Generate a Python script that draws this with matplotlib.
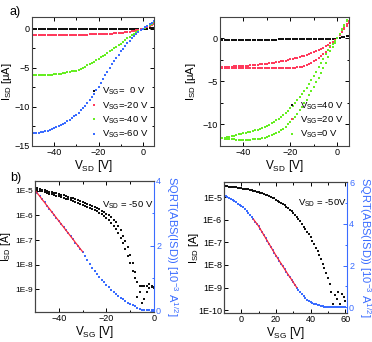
import numpy as np
import matplotlib
matplotlib.use("Agg")
import matplotlib.pyplot as plt
from matplotlib.ticker import AutoMinorLocator, FixedLocator, FuncFormatter, NullLocator

plt.rcParams['font.family'] = ['Liberation Sans', 'DejaVu Sans']
plt.rcParams['mathtext.default'] = 'regular'

# ---------------- data ----------------
# panel a) left : output curves, V_SD sweep -50..5 V
vsd_a1 = list(range(-50, 6))
isd_vsg0 = [-0.02, -0.02, -0.02, -0.02, -0.02, -0.02, -0.02, -0.02, -0.02, -0.02,
            -0.02, -0.02, -0.02, -0.02, -0.02, -0.02, -0.02, -0.02, -0.02, -0.02,
            -0.02, -0.02, -0.02, -0.02, -0.02, -0.02, -0.02, -0.02, -0.02, -0.02,
            -0.02, -0.02, -0.02, -0.02, -0.02, -0.02, -0.02, -0.02, -0.02, -0.02,
            -0.02, -0.02, -0.02, -0.02, -0.02, -0.02, -0.02, -0.02, -0.01, -0.01,
            0.0, 0.01, 0.02, 0.03, 0.04, 0.05]
isd_vsg20n = [-0.76, -0.76, -0.76, -0.76, -0.76, -0.76, -0.76, -0.76, -0.76, -0.76,
              -0.76, -0.76, -0.76, -0.76, -0.76, -0.76, -0.76, -0.75, -0.75, -0.75,
              -0.75, -0.75, -0.75, -0.74, -0.74, -0.74, -0.73, -0.73, -0.72, -0.72,
              -0.71, -0.70, -0.69, -0.68, -0.67, -0.65, -0.63, -0.61, -0.59, -0.56,
              -0.53, -0.50, -0.46, -0.42, -0.37, -0.32, -0.26, -0.20, -0.13, -0.06,
              0.01, 0.10, 0.20, 0.30, 0.42, 0.55]
isd_vsg40n = [-5.95, -5.95, -5.95, -5.94, -5.94, -5.93, -5.92, -5.90, -5.88, -5.87,
              -5.85, -5.82, -5.78, -5.74, -5.70, -5.65, -5.59, -5.52, -5.45, -5.40,
              -5.35, -5.24, -5.12, -5.00, -4.85, -4.70, -4.53, -4.37, -4.20, -4.02,
              -3.85, -3.66, -3.48, -3.30, -3.10, -2.90, -2.70, -2.50, -2.30, -2.10,
              -1.90, -1.67, -1.45, -1.25, -1.05, -0.85, -0.66, -0.48, -0.30, -0.15,
              0.00, 0.15, 0.30, 0.47, 0.63, 0.80]
isd_vsg60n = [-13.40, -13.38, -13.35, -13.30, -13.25, -13.20, -13.12, -13.03, -12.93, -12.82,
              -12.70, -12.58, -12.45, -12.32, -12.20, -12.05, -11.85, -11.65, -11.45, -11.22,
              -11.00, -10.72, -10.43, -10.13, -9.82, -9.50, -9.10, -8.70, -8.30, -7.85,
              -7.40, -6.92, -6.44, -5.96, -5.48, -5.00, -4.57, -4.15, -3.73, -3.31,
              -2.90, -2.55, -2.20, -1.86, -1.53, -1.20, -0.93, -0.67, -0.43, -0.21,
              0.00, 0.20, 0.40, 0.58, 0.77, 0.95]
legend_a1 = ['$V_{SG}$=  0 V', '$V_{SG}$=-20 V', '$V_{SG}$=-40 V', '$V_{SG}$=-60 V']

# panel a) right : output curves (forward and backward sweeps)
vsd_a2 = list(range(-50, 6))
isd_vsg40 = [-0.12, -0.12, -0.12, -0.12, -0.12, -0.12, -0.12, -0.12, -0.12, -0.12,
             -0.12, -0.12, -0.12, -0.12, -0.12, -0.12, -0.12, -0.12, -0.12, -0.12,
             -0.12, -0.12, -0.12, -0.12, -0.12, -0.11, -0.11, -0.11, -0.11, -0.11,
             -0.11, -0.11, -0.10, -0.10, -0.10, -0.10, -0.10, -0.10, -0.09, -0.09,
             -0.09, -0.09, -0.08, -0.08, -0.08, -0.07, -0.06, -0.05, -0.04, -0.02,
             0.00, 0.06, 0.13, 0.20, 0.27, 0.33]
isd_vsg20_lo = [-3.38, -3.39, -3.39, -3.40, -3.40, -3.40, -3.40, -3.40, -3.40, -3.40,
                -3.40, -3.40, -3.40, -3.40, -3.40, -3.40, -3.40, -3.40, -3.40, -3.40,
                -3.40, -3.40, -3.40, -3.40, -3.40, -3.40, -3.40, -3.40, -3.40, -3.40,
                -3.40, -3.39, -3.38, -3.36, -3.32, -3.26, -3.18, -3.08, -2.96, -2.82,
                -2.66, -2.48, -2.28, -2.06, -1.82, -1.56, -1.28, -0.98, -0.66, -0.33,
                0.00, 0.36, 0.72, 1.08, 1.44, 1.78]
isd_vsg20_up = [-3.32, -3.31, -3.30, -3.29, -3.28, -3.26, -3.25, -3.23, -3.22, -3.20,
                -3.18, -3.16, -3.14, -3.12, -3.10, -3.07, -3.04, -3.01, -2.98, -2.95,
                -2.92, -2.88, -2.84, -2.80, -2.76, -2.71, -2.66, -2.61, -2.56, -2.50,
                -2.44, -2.38, -2.31, -2.24, -2.17, -2.09, -2.01, -1.92, -1.83, -1.73,
                -1.62, -1.50, -1.37, -1.23, -1.08, -0.92, -0.74, -0.55, -0.36, -0.17,
                0.03, 0.45, 0.85, 1.25, 1.65, 2.02]
isd_vsg0_lo = [-11.55, -11.60, -11.63, -11.66, -11.69, -11.71, -11.73, -11.75, -11.76, -11.77,
               -11.78, -11.78, -11.77, -11.76, -11.74, -11.72, -11.69, -11.65, -11.60, -11.55,
               -11.48, -11.38, -11.26, -11.12, -10.98, -10.82, -10.65, -10.48, -10.25, -9.98,
               -9.70, -9.40, -9.08, -8.73, -8.37, -7.98, -7.55, -7.10, -6.60, -6.10,
               -5.60, -5.10, -4.58, -4.03, -3.45, -2.85, -2.17, -1.50, -0.97, -0.48,
               0.00, 0.50, 1.00, 1.50, 2.00, 2.45]
isd_vsg0_up = [-11.62, -11.58, -11.52, -11.46, -11.40, -11.34, -11.28, -11.22, -11.16, -11.10,
               -11.04, -10.98, -10.91, -10.84, -10.76, -10.68, -10.60, -10.50, -10.40, -10.30,
               -10.20, -10.04, -9.87, -9.70, -9.52, -9.33, -9.12, -8.90, -8.64, -8.38,
               -8.10, -7.80, -7.50, -7.18, -6.86, -6.50, -6.10, -5.70, -5.28, -4.82,
               -4.35, -3.85, -3.35, -2.85, -2.35, -1.86, -1.38, -0.92, -0.60, -0.30,
               0.02, 0.55, 1.10, 1.60, 2.10, 2.55]
legend_a2 = ['$V_{SG}$=40 V', '$V_{SG}$=20 V', '$V_{SG}$=0 V']

# panel b) left : transfer curve, V_SD = -50 V (log10 of |I_SD| in A)
vsg_b1 = list(range(-50, 1))
log_isd_b1_up = [-4.88, -4.90, -4.93, -4.95, -4.98, -5.00, -5.03, -5.05, -5.08, -5.10,
                 -5.13, -5.16, -5.19, -5.22, -5.25, -5.28, -5.31, -5.34, -5.37, -5.40,
                 -5.44, -5.48, -5.52, -5.56, -5.60, -5.65, -5.70, -5.75, -5.80, -5.87,
                 -5.93, -6.00, -6.08, -6.17, -6.28, -6.42, -6.60, -6.82, -7.05, -7.30,
                 -7.60, -7.95, -8.30, -8.69, -8.87, -8.85, -8.87, -8.87, -8.80, -8.87,
                 -8.90]
log_isd_b1_lo = [-4.93, -4.96, -4.99, -5.02, -5.05, -5.08, -5.11, -5.14, -5.17, -5.20,
                 -5.23, -5.26, -5.29, -5.32, -5.35, -5.38, -5.41, -5.45, -5.48, -5.52,
                 -5.56, -5.60, -5.64, -5.69, -5.74, -5.79, -5.84, -5.90, -5.96, -6.03,
                 -6.10, -6.19, -6.29, -6.41, -6.55, -6.71, -6.90, -7.12, -7.38, -7.65,
                 -7.95, -8.25, -8.55, -9.30, -9.10, -9.57, -9.40, -9.10, -8.95, -8.90,
                 -8.95]
sqrt_b1 = [3.72, 3.62, 3.53, 3.43, 3.34, 3.24, 3.15, 3.05, 2.96, 2.86,
           2.77, 2.67, 2.58, 2.48, 2.39, 2.29, 2.20, 2.10, 2.01, 1.91,
           1.82, 1.69, 1.57, 1.45, 1.33, 1.22, 1.12, 1.03, 0.95, 0.87,
           0.80, 0.72, 0.65, 0.58, 0.51, 0.45, 0.40, 0.35, 0.30, 0.25,
           0.21, 0.18, 0.13, 0.08, 0.04, 0.02, 0.02, 0.02, 0.02, 0.02,
           0.02]
fit_b1_range = (-50, -30)   # V_SG range highlighted in red

# panel b) right : transfer curve, V_SD = -50 V
vsg_b2 = list(range(-10, 61))
log_isd_b2 = [-4.49, -4.50, -4.51, -4.52, -4.53, -4.54, -4.55, -4.56, -4.57, -4.59,
              -4.60, -4.61, -4.62, -4.64, -4.65, -4.67, -4.69, -4.71, -4.73, -4.75,
              -4.77, -4.79, -4.82, -4.85, -4.88, -4.91, -4.94, -4.98, -5.01, -5.05,
              -5.10, -5.15, -5.20, -5.25, -5.31, -5.36, -5.42, -5.48, -5.54, -5.60,
              -5.70, -5.79, -5.88, -5.97, -6.06, -6.18, -6.30, -6.41, -6.52, -6.64,
              -6.77, -6.92, -7.08, -7.23, -7.39, -7.56, -7.75, -7.95, -8.15, -8.37,
              -8.60, -8.85, -9.20, -9.75, -9.35, -9.50, -9.20, -9.75, -9.30, -9.42,
              -9.60]
sqrt_b2 = [5.36, 5.31, 5.27, 5.22, 5.17, 5.12, 5.07, 5.02, 4.96, 4.91,
           4.86, 4.79, 4.71, 4.62, 4.52, 4.42, 4.32, 4.22, 4.10, 4.00,
           3.88, 3.74, 3.60, 3.46, 3.32, 3.18, 3.04, 2.90, 2.76, 2.62,
           2.48, 2.35, 2.22, 2.09, 1.96, 1.83, 1.70, 1.57, 1.45, 1.33,
           1.20, 1.07, 0.95, 0.83, 0.72, 0.62, 0.52, 0.44, 0.37, 0.31,
           0.26, 0.21, 0.17, 0.14, 0.11, 0.09, 0.07, 0.05, 0.04, 0.03,
           0.02, 0.01, 0.01, 0.01, 0.01, 0.01, 0.01, 0.01, 0.01, 0.01,
           0.01]
fit_b2_range = (7, 32)

# ---------------- style ----------------
C_BLACK = '#111111'
C_RED = '#ff3a5c'
C_GREEN = '#66ee22'
C_BLUE = '#3a6cff'
FIT_RED = '#ff2a3a'
MS = 1.9
FS_TICK = 6.5
FS_LAB = 8.5
FS_YLAB = 8
FS_LEG = 6.8

fig = plt.figure(figsize=(3.72, 3.42), dpi=100)


def style_axes(ax, right=True):
    ax.tick_params(direction='in', which='both', top=True, right=right,
                   labelsize=FS_TICK, length=3, width=0.7, pad=1.5)
    ax.tick_params(which='minor', length=1.8)
    for s in ax.spines.values():
        s.set_linewidth(0.8)
        s.set_color('#444444')


def pts(ax, x, y, c, label=None):
    ax.plot(x, y, ls='none', marker='s', ms=MS, mew=0, color=c, label=label)


# a) left
ax1 = fig.add_axes([32/372, 1-146/342, 122/372, 129/342])
pts(ax1, vsd_a1, isd_vsg0, C_BLACK, legend_a1[0])
pts(ax1, vsd_a1, isd_vsg20n, C_RED, legend_a1[1])
pts(ax1, vsd_a1, isd_vsg40n, C_GREEN, legend_a1[2])
pts(ax1, vsd_a1, isd_vsg60n, C_BLUE, legend_a1[3])
ax1.set_xlim(-50, 5)
ax1.set_ylim(-15, 1.5)
ax1.set_xticks([-40, -20, 0])
ax1.set_yticks([0, -5, -10, -15])
ax1.xaxis.set_minor_locator(AutoMinorLocator(2))
ax1.yaxis.set_minor_locator(AutoMinorLocator(2))
style_axes(ax1)
ax1.set_xlabel('$V_{SD}$ [V]', fontsize=FS_LAB, labelpad=1)
ax1.set_ylabel('$I_{SD}$ [μA]', fontsize=FS_YLAB)
ax1.yaxis.set_label_coords(-0.15, 0.5)
ax1.legend(loc='lower right', frameon=False, fontsize=FS_LEG, handlelength=0.8,
           handletextpad=0.4, labelspacing=0.3, borderaxespad=0.2)

# a) right
ax2 = fig.add_axes([220/372, 1-146/342, 129/372, 129/342])
pts(ax2, vsd_a2, isd_vsg40, C_BLACK, legend_a2[0])
pts(ax2, vsd_a2, isd_vsg20_lo, C_RED, legend_a2[1])
pts(ax2, vsd_a2, isd_vsg20_up, C_RED)
pts(ax2, vsd_a2, isd_vsg0_lo, C_GREEN, legend_a2[2])
pts(ax2, vsd_a2, isd_vsg0_up, C_GREEN)
ax2.set_xlim(-50, 5)
ax2.set_ylim(-12.5, 2.5)
ax2.set_xticks([-40, -20, 0])
ax2.set_yticks([0, -5, -10])
ax2.xaxis.set_minor_locator(AutoMinorLocator(2))
ax2.yaxis.set_minor_locator(AutoMinorLocator(2))
style_axes(ax2)
ax2.set_xlabel('$V_{SD}$ [V]', fontsize=FS_LAB, labelpad=1)
ax2.set_ylabel('$I_{SD}$ [μA]', fontsize=FS_YLAB)
ax2.yaxis.set_label_coords(-0.17, 0.5)
ax2.legend(loc='lower right', frameon=False, fontsize=FS_LEG, handlelength=0.8,
           handletextpad=0.4, labelspacing=0.3, borderaxespad=0.2)

fmt_e = FuncFormatter(lambda v, p: '1E%d' % int(round(np.log10(v))))


def transfer(ax, x, logs, sq, frange, xlim, ylim, ylim2, xt, yt2, ytl, txt, txtpos,
             lx, lfs, yfs):
    for ly in logs:
        pts(ax, x, [10.0**v for v in ly], C_BLACK)
    ax.set_yscale('log')
    ax.set_xlim(*xlim)
    ax.set_ylim(*ylim)
    ax.set_xticks(xt)
    ax.xaxis.set_minor_locator(AutoMinorLocator(2))
    ax.yaxis.set_major_locator(FixedLocator(ytl))
    ax.yaxis.set_major_formatter(fmt_e)
    ax.yaxis.set_minor_locator(NullLocator())
    style_axes(ax, right=False)
    ax.tick_params(axis='y', labelsize=yfs)
    ax.spines['right'].set_visible(False)
    ax.set_xlabel('$V_{SG}$ [V]', fontsize=FS_LAB, labelpad=1)
    ax.set_ylabel('$I_{SD}$ [A]', fontsize=lfs)
    ax.yaxis.set_label_coords(lx, 0.5)
    ax.text(txtpos[0], txtpos[1], txt, transform=ax.transAxes, fontsize=FS_LEG)
    tw = ax.twinx()
    pts(tw, x, sq, C_BLUE)
    fx = [v for v in x if frange[0] <= v <= frange[1]]
    fy = [s for v, s in zip(x, sq) if frange[0] <= v <= frange[1]]
    tw.plot(fx, fy, color=FIT_RED, lw=0.9)
    tw.set_ylim(*ylim2)
    tw.set_yticks(yt2)
    tw.yaxis.set_minor_locator(AutoMinorLocator(2))
    tw.tick_params(direction='in', which='both', colors=C_BLUE, labelsize=FS_TICK,
                   length=3, width=0.7, pad=1.5)
    tw.tick_params(which='minor', length=1.8)
    for k, s in tw.spines.items():
        s.set_linewidth(0.8)
        s.set_color('#444444')
    tw.spines['right'].set_color(C_BLUE)
    tw.set_ylabel('SQRT(ABS(ISD)) [10$^{-3}$ A$^{1/2}$]', color=C_BLUE,
                  fontsize=8, rotation=270, va='bottom', labelpad=2)
    return tw


ax3 = fig.add_axes([35/372, 1-312/342, 119/372, 131/342])
transfer(ax3, vsg_b1, [log_isd_b1_up, log_isd_b1_lo], sqrt_b1, fit_b1_range,
         (-50, 0), (1.2e-10, 2.5e-5), (-0.04, 4.0), [-40, -20, 0], [0, 2, 4],
         [1e-9, 1e-8, 1e-7, 1e-6, 1e-5], '$V_{SD}$ = -50 V', (0.56, 0.8), -0.185, 7.5, 6)

ax4 = fig.add_axes([224/372, 1-313/342, 123/372, 131/342])
transfer(ax4, vsg_b2, [log_isd_b2], sqrt_b2, fit_b2_range,
         (-10, 61), (7.4e-11, 4.8e-5), (-0.27, 6.0), [0, 20, 40, 60], [0, 2, 4, 6],
         [1e-10, 1e-9, 1e-8, 1e-7, 1e-6, 1e-5], '$V_{SD}$ = -50V', (0.6, 0.82), -0.19,
         FS_YLAB, FS_TICK)

fig.text(10/372, 1-15/342, 'a)', fontsize=9)
fig.text(10/372, 1-181/342, 'b)', fontsize=9)

fig.savefig('out.png', dpi=100)
